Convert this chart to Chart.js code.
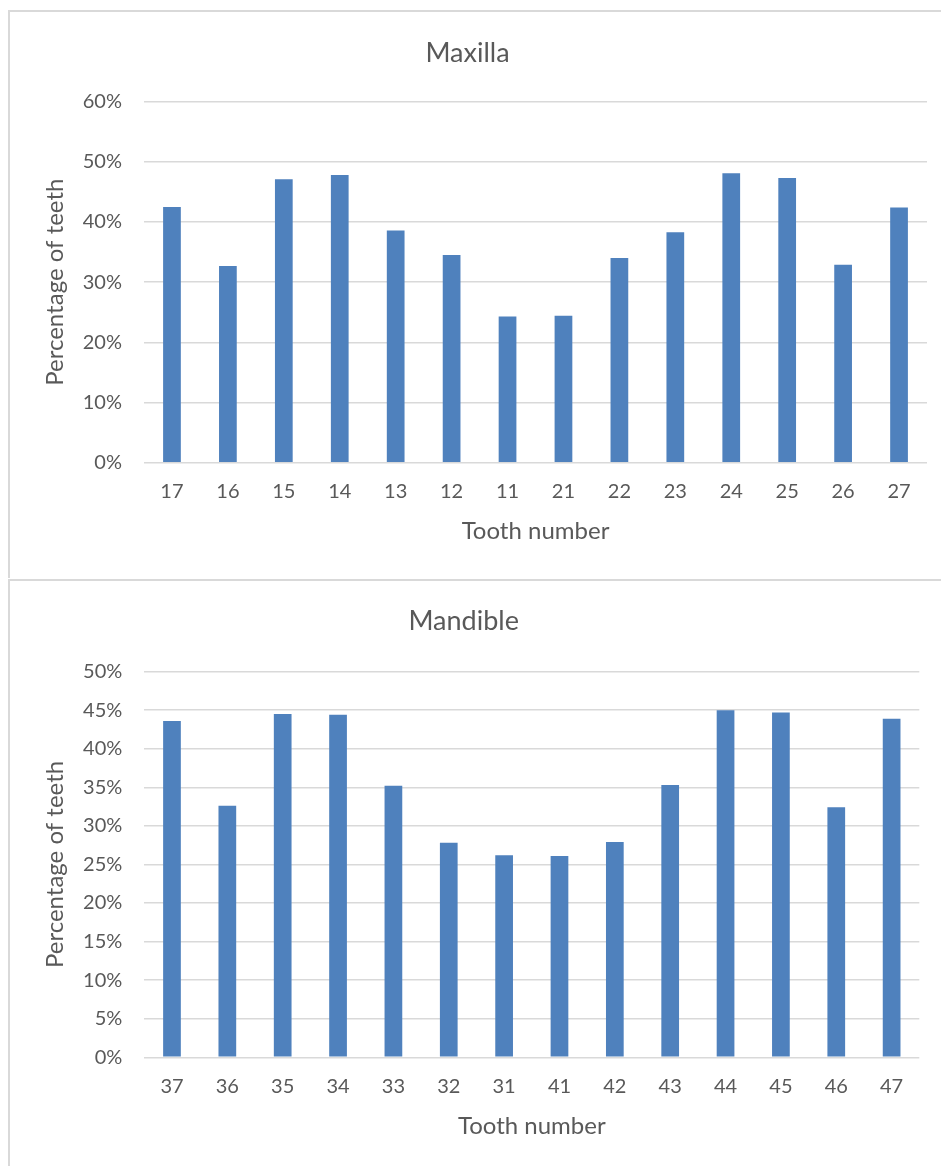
<!DOCTYPE html>
<html>
<head>
<meta charset="utf-8">
<script src="https://cdn.jsdelivr.net/npm/chart.js@4/dist/chart.umd.min.js"></script>
<style>
  html, body { margin: 0; padding: 0; background: #ffffff; }
  body { width: 941px; height: 1166px; position: relative; overflow: hidden; }
  .frame { position: absolute; border-left: 2px solid #d9d9d9; border-top: 2px solid #d9d9d9; box-sizing: border-box; }
  canvas { position: absolute; }
</style>
</head>
<body>
<div class="frame" style="left:8px; top:10px; width:940px; height:568px;"></div>
<div class="frame" style="left:8px; top:579px; width:940px; height:600px;"></div>
<canvas id="maxilla" width="933" height="567" style="left:8px; top:11px;"></canvas>
<canvas id="mandible" width="933" height="587" style="left:8px; top:579px;"></canvas>
<script>
// Upper jaw (maxilla), teeth listed from right side to left side
const maxillaTeeth = ['17', '16', '15', '14', '13', '12', '11', '21', '22', '23', '24', '25', '26', '27'];
const maxillaPct = [42.5, 32.7, 47.1, 47.8, 38.6, 34.5, 24.3, 24.4, 34.0, 38.3, 48.1, 47.3, 32.9, 42.4];

// Lower jaw (mandible)
const mandibleTeeth = ['37', '36', '35', '34', '33', '32', '31', '41', '42', '43', '44', '45', '46', '47'];
const mandiblePct = [43.6, 32.6, 44.5, 44.4, 35.2, 27.8, 26.2, 26.1, 27.9, 35.3, 45.0, 44.7, 32.4, 43.9];

// Y-axis ranges (percent)
const maxillaAxis = { max: 60, step: 10 };
const mandibleAxis = { max: 50, step: 5 };

const TEXT = '#595959';
const GRID = '#d9d9d9';
const BAR = '#4f81bd';
const FONT = 'Lato, "Open Sans", sans-serif';

function toothChart(id, title, labels, values, axis, opts) {
  return new Chart(document.getElementById(id), {
    type: 'bar',
    data: {
      labels: labels,
      datasets: [{
        data: values,
        backgroundColor: BAR,
        borderWidth: 0,
        categoryPercentage: 1,
        barPercentage: opts.barPct
      }]
    },
    options: {
      responsive: false,
      animation: false,
      devicePixelRatio: 1,
      layout: { padding: { left: 0, right: opts.padRight, top: 0, bottom: opts.padBottom } },
      plugins: {
        legend: { display: false },
        tooltip: { enabled: false },
        title: {
          display: true,
          text: title,
          color: TEXT,
          font: { family: FONT, size: 27, weight: 'normal', lineHeight: 1.2 },
          padding: { top: 25.6, bottom: opts.titleGap }
        }
      },
      scales: {
        x: {
          grid: { display: false, drawTicks: false },
          border: { display: false },
          ticks: { color: TEXT, font: { family: FONT, size: 20 }, padding: 17, maxRotation: 0 },
          title: {
            display: true,
            text: 'Tooth number',
            color: TEXT,
            font: { family: FONT, size: 24, lineHeight: 1.25 },
            padding: { top: 10, bottom: 4 }
          },
          afterFit: s => { s.height = 88; }
        },
        y: {
          min: 0,
          max: axis.max,
          grid: { color: GRID, lineWidth: 1.5, drawTicks: false },
          border: { display: false },
          ticks: {
            stepSize: axis.step,
            color: TEXT,
            font: { family: FONT, size: 20 },
            padding: 22,
            callback: v => v + '%'
          },
          title: {
            display: true,
            text: 'Percentage of teeth',
            color: TEXT,
            font: { family: FONT, size: 24, lineHeight: 1.25 },
            padding: { top: 32.5, bottom: 0 }
          },
          afterFit: s => { s.width = opts.axisWidth; }
        }
      }
    }
  });
}

toothChart('maxilla', 'Maxilla', maxillaTeeth, maxillaPct, maxillaAxis,
  { barPct: 0.317, padRight: 14, padBottom: 27.3, titleGap: 32.6, axisWidth: 136 });
toothChart('mandible', 'Mandible', mandibleTeeth, mandiblePct, mandibleAxis,
  { barPct: 0.32, padRight: 21.7, padBottom: 20.7, titleGap: 34.6, axisWidth: 136.3 });
</script>
</body>
</html>
